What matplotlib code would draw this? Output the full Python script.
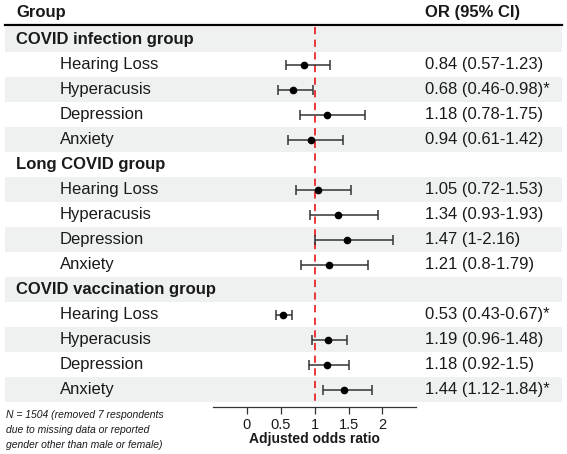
import matplotlib.pyplot as plt

plt.rcParams['font.family'] = ['Liberation Sans', 'DejaVu Sans']

groups = ['COVID infection group', 'Long COVID group', 'COVID vaccination group']
outcomes = ['Hearing Loss', 'Hyperacusis', 'Depression', 'Anxiety']

odds_ratio = [[0.84, 0.68, 1.18, 0.94],
              [1.05, 1.34, 1.47, 1.21],
              [0.53, 1.19, 1.18, 1.44]]
ci_low = [[0.57, 0.46, 0.78, 0.61],
          [0.72, 0.93, 1.00, 0.80],
          [0.43, 0.96, 0.92, 1.12]]
ci_high = [[1.23, 0.98, 1.75, 1.42],
           [1.53, 1.93, 2.16, 1.79],
           [0.67, 1.48, 1.50, 1.84]]
or_labels = [['0.84 (0.57-1.23)', '0.68 (0.46-0.98)*', '1.18 (0.78-1.75)', '0.94 (0.61-1.42)'],
             ['1.05 (0.72-1.53)', '1.34 (0.93-1.93)', '1.47 (1-2.16)', '1.21 (0.8-1.79)'],
             ['0.53 (0.43-0.67)*', '1.19 (0.96-1.48)', '1.18 (0.92-1.5)', '1.44 (1.12-1.84)*']]

xticks = [0, 0.5, 1, 1.5, 2]
xtick_labels = ['0', '0.5', '1', '1.5', '2']

footnote = ['N = 1504 (removed 7 respondents',
            'due to missing data or reported',
            'gender other than male or female)']

W, H = 567, 454
fig = plt.figure(figsize=(W / 100, H / 100), dpi=100)
ax = fig.add_axes([0, 0, 1, 1])

# pixel layout: x=0 at 247px, 67.7px per unit; row i centred at 39.5 + 25*i px
ppu = 67.7
x0 = 247
ax.set_xlim(-x0 / ppu, (W - x0) / ppu)
ax.set_ylim((H - 39.5) / 25, -39.5 / 25)
ax.axis('off')

text_color = '#1a1a1a'
band_color = '#eef1f0'
trans = ax.get_yaxis_transform()

row = 0
for g, grp in enumerate(groups):
    if row % 2 == 0:
        ax.axhspan(row - 0.5, row + 0.5, xmin=5 / W, xmax=562 / W, color=band_color, lw=0, zorder=0)
    ax.text(16 / W, row, grp, transform=trans, fontsize=12, fontweight='bold',
            va='center', ha='left', color=text_color)
    row += 1
    for k, name in enumerate(outcomes):
        if row % 2 == 0:
            ax.axhspan(row - 0.5, row + 0.5, xmin=5 / W, xmax=562 / W, color=band_color, lw=0, zorder=0)
        ax.text(60 / W, row, name, transform=trans, fontsize=12,
                va='center', ha='left', color=text_color)
        ax.text(425 / W, row, or_labels[g][k], transform=trans, fontsize=12,
                va='center', ha='left', color=text_color)
        o = odds_ratio[g][k]
        ax.errorbar(o, row, xerr=[[o - ci_low[g][k]], [ci_high[g][k] - o]],
                    fmt='o', color='black', ecolor='#333333', elinewidth=1.1,
                    capsize=3.5, capthick=1.1, markersize=4.5, zorder=3)
        row += 1

n_rows = row
# reference line at OR = 1
ax.plot([1, 1], [-0.5, n_rows - 0.5], color='#e8262a', lw=1.3, ls=(0, (4, 3)), zorder=2)

# header
ax.text(16 / W, -1.06, 'Group', transform=trans, fontsize=12, fontweight='bold',
        va='center', ha='left', color=text_color)
ax.text(425 / W, -1.06, 'OR (95% CI)', transform=trans, fontsize=12, fontweight='bold',
        va='center', ha='left', color=text_color)
ax.plot([5 / W, 562 / W], [-0.56, -0.56], transform=trans, color='black', lw=1.6)

# x axis
ax2 = fig.add_axes([0, 1 - 407 / H, 1, 0.0001], sharex=ax)
ax2.set_facecolor('none')
for s in ['top', 'left', 'right']:
    ax2.spines[s].set_visible(False)
ax2.spines['bottom'].set_bounds(-0.5, 2.5)
ax2.spines['bottom'].set_color('#333333')
ax2.spines['bottom'].set_linewidth(0.9)
ax2.set_yticks([])
ax2.set_xticks(xticks)
ax2.set_xticklabels(xtick_labels, fontsize=10.5, color=text_color)
ax2.tick_params(axis='x', direction='out', length=5, width=0.9, color='#333333', pad=3)
ax2.annotate('Adjusted odds ratio', xy=(1, 0), xycoords=('data', 'axes fraction'),
             xytext=(0, -23), textcoords='offset points',
             fontsize=10, fontweight='bold', ha='center', va='center', color=text_color)

for i, line in enumerate(footnote):
    fig.text(6 / W, 1 - (415 + 15 * i) / H, line, fontsize=7.5, style='italic',
             va='center', ha='left', color=text_color)

fig.savefig('out.png', dpi=100)
